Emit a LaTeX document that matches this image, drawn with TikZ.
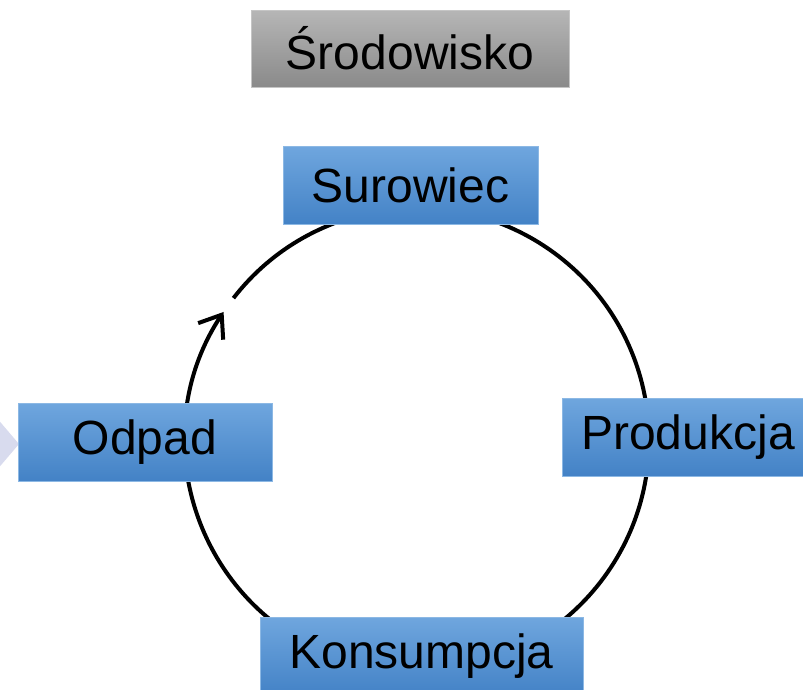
\documentclass[tikz,border=0pt]{standalone}
\usepackage{fontspec}
\setmainfont{Liberation Sans}
\usetikzlibrary{arrows.meta}
\definecolor{bluetop}{HTML}{6FA6DE}
\definecolor{bluebot}{HTML}{4382C6}
\definecolor{blueedge}{HTML}{8CB8E4}
\definecolor{greytop}{HTML}{B6B6B6}
\definecolor{greybot}{HTML}{8A8A8A}
\definecolor{chev}{HTML}{D8DBEE}
\tikzset{
  bluebox/.style={draw=blueedge, line width=0.8pt, top color=bluetop, bottom color=bluebot,
    minimum height=78pt, inner sep=0pt, font=\fontsize{48}{56}\selectfont, text=black},
  greybox/.style={draw=greytop!80!white, line width=0.8pt, top color=greytop, bottom color=greybot,
    minimum height=77pt, inner sep=0pt, font=\fontsize{48}{56}\selectfont, text=black},
  cyc/.style={line width=4pt, black}
}
\begin{document}
\begin{tikzpicture}[x=1pt,y=-1pt]
\useasboundingbox (0,0) rectangle (803,689);
\begin{scope}
\clip (0,0) rectangle (803,689);
% chevron
\fill[chev] (-10,410) -- (19,444) -- (-10,478) -- cycle;
% cycle
\coordinate (c) at (417,440);
\draw[cyc, -{Straight Barb[length=20pt,width=30pt,line width=4pt]}]
  (c) ++(142.3:232 and -232) arc[start angle=-142.3, end angle=213.5, radius=232];
% boxes
\node[greybox, minimum width=318pt] (env) at (410,48.5) {Środowisko};
\node[bluebox, minimum width=255pt] (sur) at (410.5,185.5) {Surowiec};
\node[bluebox, minimum width=254pt] (odp) at (145,442) {Odpad};
\node[bluebox, minimum width=252pt] (pro) at (688,437) {Produkcja};
\node[bluebox, minimum width=323pt, anchor=north] (kon) at (421.5,617) {\raisebox{-13pt}{Konsumpcja}};
\end{scope}
\end{tikzpicture}
\end{document}
